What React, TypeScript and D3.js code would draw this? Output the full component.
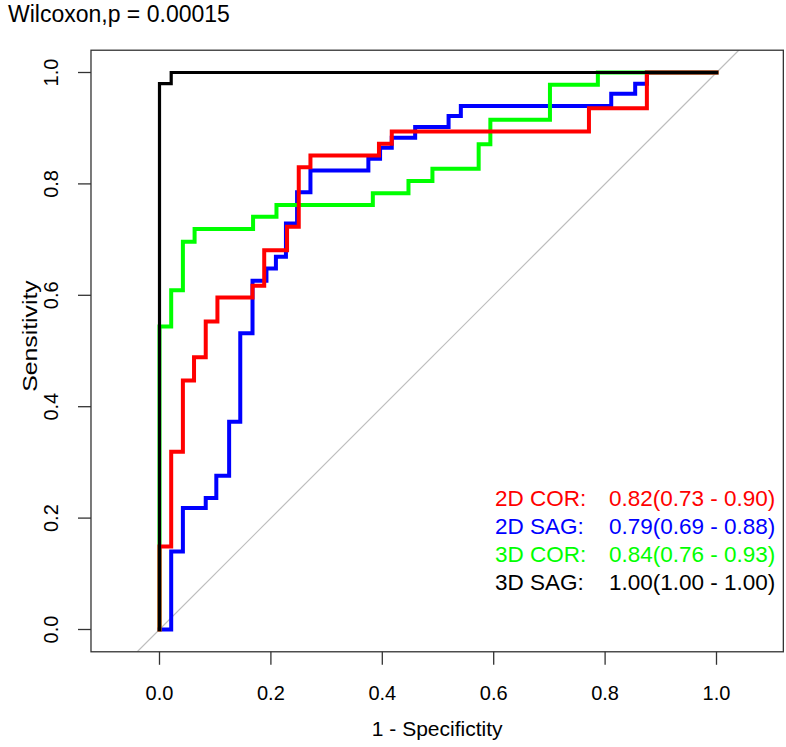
import React from "react";
import * as d3 from "d3";

// ---- data ----
const xTicks = [0, 0.2, 0.4, 0.6, 0.8, 1.0];
const yTicks = [0, 0.2, 0.4, 0.6, 0.8, 1.0];

// [1 - specificity, sensitivity]
const cor2D: [number, number][] = [
  [0, 0], [0, 0.149], [0.021, 0.149], [0.021, 0.319], [0.042, 0.319], [0.042, 0.447],
  [0.062, 0.447], [0.062, 0.489], [0.083, 0.489], [0.083, 0.553], [0.104, 0.553],
  [0.104, 0.596], [0.167, 0.596], [0.167, 0.617], [0.188, 0.617], [0.188, 0.681],
  [0.229, 0.681], [0.229, 0.723], [0.25, 0.723], [0.25, 0.83], [0.271, 0.83],
  [0.271, 0.851], [0.394, 0.851], [0.394, 0.872], [0.417, 0.872], [0.417, 0.894],
  [0.771, 0.894], [0.771, 0.936], [0.875, 0.936], [0.875, 1], [1, 1],
];
const sag2D: [number, number][] = [
  [0, 0], [0.021, 0], [0.021, 0.14], [0.042, 0.14], [0.042, 0.218], [0.083, 0.218],
  [0.083, 0.236], [0.102, 0.236], [0.102, 0.276], [0.125, 0.276], [0.125, 0.373],
  [0.145, 0.373], [0.145, 0.532], [0.167, 0.532], [0.167, 0.626], [0.192, 0.626],
  [0.192, 0.648], [0.209, 0.648], [0.209, 0.669], [0.227, 0.669], [0.227, 0.729],
  [0.247, 0.729], [0.247, 0.785], [0.271, 0.785], [0.271, 0.824], [0.375, 0.824],
  [0.375, 0.845], [0.396, 0.845], [0.396, 0.865], [0.417, 0.865], [0.417, 0.883],
  [0.459, 0.883], [0.459, 0.902], [0.519, 0.902], [0.519, 0.922], [0.541, 0.922],
  [0.541, 0.94], [0.811, 0.94], [0.811, 0.962], [0.854, 0.962], [0.854, 0.98],
  [0.875, 0.98], [0.875, 1], [1, 1],
];
const cor3D: [number, number][] = [
  [0, 0], [0, 0.544], [0.021, 0.544], [0.021, 0.609], [0.042, 0.609], [0.042, 0.696],
  [0.063, 0.696], [0.063, 0.719], [0.168, 0.719], [0.168, 0.741], [0.21, 0.741],
  [0.21, 0.762], [0.383, 0.762], [0.383, 0.783], [0.447, 0.783], [0.447, 0.805],
  [0.49, 0.805], [0.49, 0.827], [0.573, 0.827], [0.573, 0.871], [0.594, 0.871],
  [0.594, 0.915], [0.701, 0.915], [0.701, 0.978], [0.787, 0.978], [0.787, 1], [1, 1],
];
const sag3D: [number, number][] = [
  [0, 0], [0, 0.98], [0.021, 0.98], [0.021, 1], [1, 1],
];

const legendLabels = ["2D COR:", "2D SAG:", "3D COR:", "3D SAG:"];
const legendValues = [
  "0.82(0.73 - 0.90)",
  "0.79(0.69 - 0.88)",
  "0.84(0.76 - 0.93)",
  "1.00(1.00 - 1.00)",
];
const legendColors = ["#ff0000", "#0000ff", "#00ff00", "#000000"];

const title = "Wilcoxon,p = 0.00015";
const xLabel = "1 - Specifictity";
const yLabel = "Sensitivity";

const W = 786;
const H = 747;
const FONT = "'Liberation Sans', Arial, Helvetica, sans-serif";

export default function App() {
  const x = d3.scaleLinear().domain([0, 1]).range([159.5, 716.5]);
  const y = d3.scaleLinear().domain([0, 1]).range([629.5, 72.5]);
  const xLim = [-0.123, 1.12];
  const yLim = [-0.04, 1.04];
  const left = x(xLim[0]);
  const right = x(xLim[1]);
  const top = y(yLim[1]);
  const bottom = y(yLim[0]);

  const line = d3
    .line<[number, number]>()
    .x((d) => x(d[0]))
    .y((d) => y(d[1]));

  // drawing order: blue, green, red, black on top
  const series: { data: [number, number][]; color: string; width: number }[] = [
    { data: sag2D, color: legendColors[1], width: 4 },
    { data: cor3D, color: legendColors[2], width: 4 },
    { data: cor2D, color: legendColors[0], width: 4 },
    { data: sag3D, color: legendColors[3], width: 3.2 },
  ];

  const legendX1 = 495;
  const legendX2 = 609;
  const legendY0 = 506;
  const legendDy = 28;

  return (
    <svg
      width={W}
      height={H}
      style={{ position: "absolute", left: 0, top: 0, background: "#fff" }}
      fontFamily={FONT}
    >
      <rect x={0} y={0} width={W} height={H} fill="#fff" />
      <defs>
        <clipPath id="plotclip">
          <rect x={left} y={top} width={right - left} height={bottom - top} />
        </clipPath>
      </defs>

      {/* title */}
      <text x={8} y={22} fontSize={23} fill="#000">
        {title}
      </text>

      {/* diagonal reference line */}
      <line
        x1={x(yLim[0])}
        y1={y(yLim[0])}
        x2={x(yLim[1])}
        y2={y(yLim[1])}
        stroke="#bdbdbd"
        strokeWidth={1.2}
        clipPath="url(#plotclip)"
      />

      {/* ROC curves */}
      {series.map((s, i) => (
        <path
          key={i}
          d={line(s.data) || ""}
          fill="none"
          stroke={s.color}
          strokeWidth={s.width}
          strokeLinejoin="miter"
          strokeLinecap="square"
        />
      ))}

      {/* plot box */}
      <rect
        x={left}
        y={top}
        width={right - left}
        height={bottom - top}
        fill="none"
        stroke="#333"
        strokeWidth={1.3}
      />

      {/* x axis */}
      {xTicks.map((t) => (
        <g key={"x" + t}>
          <line x1={x(t)} x2={x(t)} y1={bottom} y2={bottom + 13} stroke="#333" strokeWidth={1.3} />
          <text x={x(t)} y={700} fontSize={20} textAnchor="middle" fill="#000">
            {t.toFixed(1)}
          </text>
        </g>
      ))}
      <text x={(left + right) / 2} y={736} fontSize={21} textAnchor="middle" fill="#000">
        {xLabel}
      </text>

      {/* y axis */}
      {yTicks.map((t) => (
        <g key={"y" + t}>
          <line x1={left} x2={left - 13} y1={y(t)} y2={y(t)} stroke="#333" strokeWidth={1.3} />
          <text
            transform={`translate(58,${y(t)}) rotate(-90)`}
            fontSize={20}
            textAnchor="middle"
            fill="#000"
          >
            {t.toFixed(1)}
          </text>
        </g>
      ))}
      <text
        transform={`translate(37,336) rotate(-90) scale(1.18,1)`}
        fontSize={21}
        textAnchor="middle"
        fill="#000"
      >
        {yLabel}
      </text>

      {/* legend */}
      {legendLabels.map((lab, i) => (
        <g key={lab}>
          <text x={legendX1} y={legendY0 + i * legendDy} fontSize={22.5} fill={legendColors[i]}>
            {lab}
          </text>
          <text x={legendX2} y={legendY0 + i * legendDy} fontSize={22.5} fill={legendColors[i]}>
            {legendValues[i]}
          </text>
        </g>
      ))}
    </svg>
  );
}
